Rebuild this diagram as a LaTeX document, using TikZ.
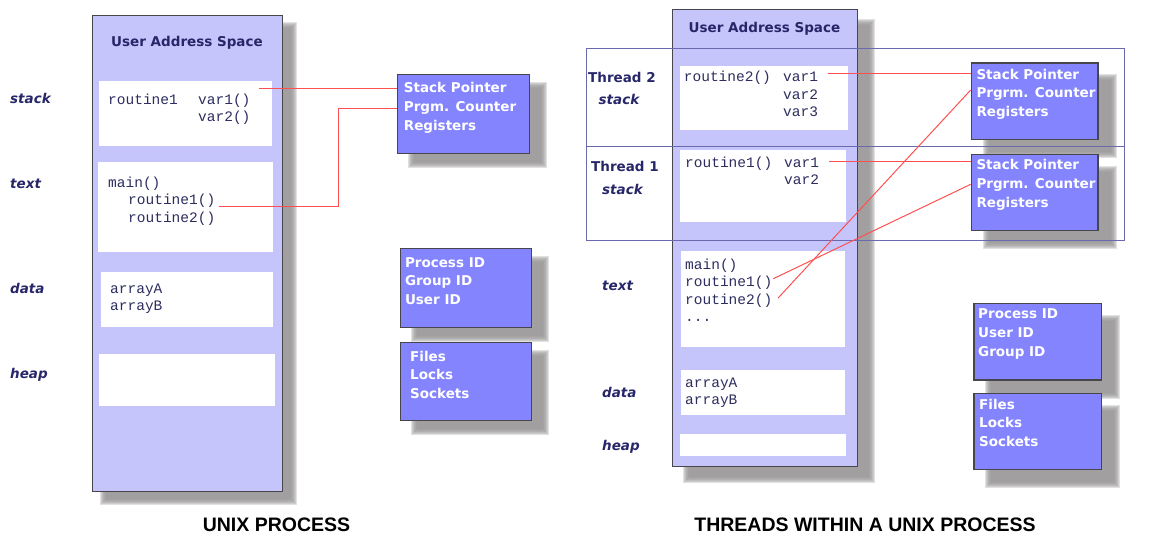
\documentclass[tikz,border=0pt]{standalone}
\usepackage{fontspec}
\setmainfont{DejaVu Sans}
\newfontfamily\capfont{Liberation Sans}
\newfontfamily\codefont{Liberation Mono}
\usetikzlibrary{calc,backgrounds}
\definecolor{colfill}{RGB}{197,197,251}
\definecolor{boxblue}{RGB}{132,132,255}
\definecolor{navy}{RGB}{38,38,105}
\definecolor{codecol}{RGB}{45,45,95}
\definecolor{threadline}{RGB}{105,105,175}
\definecolor{redline}{RGB}{255,80,80}
\definecolor{bordercol}{RGB}{70,70,75}
\definecolor{shadowcol}{RGB}{150,148,148}
\newcommand\mlines[1]{\begin{tabular}[t]{@{}l@{}}#1\end{tabular}}
\tikzset{
  colbox/.style={draw=bordercol, line width=1.3pt, fill=colfill, inner sep=0, anchor=north west},
  whitebox/.style={fill=white, draw=none, inner sep=0, anchor=north west},
  bluebox/.style={draw=bordercol, line width=1.3pt, fill=boxblue, inner sep=0, anchor=north west},
  lbl/.style={font=\fontsize{13.5}{16}\selectfont\bfseries\itshape, text=navy, anchor=base west, inner sep=0},
  thr/.style={font=\fontsize{13.5}{16}\selectfont\bfseries, text=navy, anchor=base west, inner sep=0},
  ttl/.style={font=\fontsize{13.5}{16}\selectfont\bfseries, text=navy, anchor=base, inner sep=0},
  code/.style={font=\codefont\fontsize{14.5}{17.5}\selectfont, text=codecol, anchor=base west, inner sep=0},
  btxt/.style={font=\fontsize{13.5}{18.8}\selectfont\bfseries, text=white, anchor=base west, inner sep=0},
  captxt/.style={font=\capfont\fontsize{19.5}{22}\selectfont\bfseries, text=black, inner sep=0},
  rl/.style={draw=redline, line width=1pt},
  tl/.style={draw=threadline, line width=1pt}
}
\newcommand\blurshadow[3]{%
  \begin{scope}[on background layer]
  \foreach \k in {-3,...,3}{
    \fill[shadowcol, opacity=0.28] ($(#1.north west)+({#2+\k},{#3+\k})$) rectangle ($(#1.south east)+({#2-\k},{#3-\k})$);
  }
  \end{scope}}
\begin{document}
\begin{tikzpicture}[x=1pt,y=-1pt]
\useasboundingbox (0,0) rectangle (1160,546);

% ================= LEFT =================
\node[colbox, minimum width=190, minimum height=476] (lcol) at (92,15) {};
\blurshadow{lcol}{11}{10}
\node[ttl] (ltitle) at (187,46) {User Address Space};
\node[whitebox, minimum width=172.5, minimum height=65] (lstack) at (99,81) {};
\node[whitebox, minimum width=175.5, minimum height=90] (ltext) at (97.5,162) {};
\node[whitebox, minimum width=172, minimum height=55] (ldata) at (101,272) {};
\node[whitebox, minimum width=176, minimum height=52] (lheap) at (99,354) {};

\node[lbl] (lstacklbl) at (10,103) {stack};
\node[lbl] (ltextlbl) at (10,188) {text};
\node[lbl] (ldatalbl) at (10,293) {data};
\node[lbl] (lheaplbl) at (10,378) {heap};

\node[code] (lc1) at (108,104) {routine1};
\node[code] (lc2) at (198,104) {\mlines{var1()\\var2()}};
\node[code] (lc3) at (108,187) {main()};
\node[code] (lc4) at (128,204.5) {\mlines{routine1()\\routine2()}};
\node[code] (lc5) at (110,293) {\mlines{arrayA\\arrayB}};

\node[bluebox, minimum width=132, minimum height=79] (lsp) at (397,74) {};
\node[bluebox, minimum width=131, minimum height=79] (lpid) at (400,248) {};
\node[bluebox, minimum width=131, minimum height=78] (lfiles) at (400,342) {};
\blurshadow{lsp}{14}{11}
\blurshadow{lpid}{14}{11}
\blurshadow{lfiles}{14}{11}
\node[btxt] (lspt) at (403.7,92.5) {\mlines{Stack Pointer\\Prgm. Counter\\Registers}};
\node[btxt] (lpidt) at (404.8,267) {\mlines{Process ID\\Group ID\\User ID}};
\node[btxt] (lfilest) at (410,361) {\mlines{Files\\Locks\\Sockets}};

\coordinate (lv1) at (259,88.7);
\coordinate (lr1) at (219,206.3);
\coordinate (lbend) at (338.5,108.7);
\draw[rl] (lv1) -- (lv1 -| lsp.west);
\draw[rl] (lr1) -| (lbend) -- (lbend -| lsp.west);

\node[captxt] (lcap) at (276.5,525) {UNIX PROCESS};

% ================= RIGHT =================
\node[colbox, minimum width=185, minimum height=457] (rcol) at (672,9) {};
\blurshadow{rcol}{14}{13}
\node[ttl] (rtitle) at (764.5,32) {User Address Space};
\node[whitebox, minimum width=168, minimum height=63.6] (t2stack) at (679.3,65.7) {};
\node[whitebox, minimum width=166.7, minimum height=71.7] (t1stack) at (679.3,150) {};
\node[whitebox, minimum width=164, minimum height=96.3] (rtext) at (680.7,250.7) {};
\node[whitebox, minimum width=164, minimum height=45] (rdata) at (680.7,369.7) {};
\node[whitebox, minimum width=166.7, minimum height=22] (rheap) at (679.3,434) {};

\node[tl, draw, inner sep=0, anchor=north west, minimum width=538.8, minimum height=98.3] (t2) at (585.6,47.7) {};
\node[tl, draw, inner sep=0, anchor=north west, minimum width=538.8, minimum height=94] (t1) at (585.6,146) {};

\node[thr] (t2lbl) at (588,82) {Thread 2};
\node[lbl] (t2st) at (598.5,104) {stack};
\node[thr] (t1lbl) at (591,171) {Thread 1};
\node[lbl] (t1st) at (602,194) {stack};
\node[lbl] (rtextlbl) at (602,290) {text};
\node[lbl] (rdatalbl) at (602,397) {data};
\node[lbl] (rheaplbl) at (602,450) {heap};

\node[code] (rc1) at (683.7,81.5) {routine2()};
\node[code] (rc2) at (783,81.5) {\mlines{var1\\var2\\var3}};
\node[code] (rc3) at (685,167) {routine1()};
\node[code] (rc4) at (784,167) {\mlines{var1\\var2}};
\node[code] (rc5) at (685,269) {\mlines{main()\\routine1()\\routine2()\\...}};
\node[code] (rc6) at (685,387) {\mlines{arrayA\\arrayB}};

\node[bluebox, minimum width=126.7, minimum height=76.4] (rsp2) at (970.7,62.3) {};
\node[bluebox, minimum width=126.7, minimum height=76] (rsp1) at (970.7,154) {};
\node[bluebox, minimum width=127.7, minimum height=76.6] (rpid) at (973.3,302.7) {};
\node[bluebox, minimum width=127.7, minimum height=76] (rfiles) at (973.3,393) {};
\blurshadow{rsp2}{15}{15}
\blurshadow{rsp1}{15}{15}
\blurshadow{rpid}{15}{15}
\blurshadow{rfiles}{15}{15}
\node[btxt] (rsp2t) at (976.3,79) {\mlines{Stack Pointer\\Prgrm. Counter\\Registers}};
\node[btxt] (rsp1t) at (976.3,169.5) {\mlines{Stack Pointer\\Prgrm. Counter\\Registers}};
\node[btxt] (rpidt) at (978,318.5) {\mlines{Process ID\\User ID\\Group ID}};
\node[btxt] (rfilest) at (979,409) {\mlines{Files\\Locks\\Sockets}};

\coordinate (rv2) at (828,73.7);
\coordinate (rv1) at (829,161.3);
\coordinate (rr1) at (773.3,278.7);
\coordinate (rr2) at (778.1,298);
\coordinate (rsp1in) at (970.7,184.3);
\coordinate (rsp2in) at (970.7,90);
\draw[rl] (rv2) -- (rv2 -| rsp2.west);
\draw[rl] (rv1) -- (rv1 -| rsp1.west);
\draw[rl] (rr1) -- (rsp1in);
\draw[rl] (rr2) -- (rsp2in);

\node[captxt] (rcap) at (865,525) {THREADS WITHIN A UNIX PROCESS};
\end{tikzpicture}
\end{document}
